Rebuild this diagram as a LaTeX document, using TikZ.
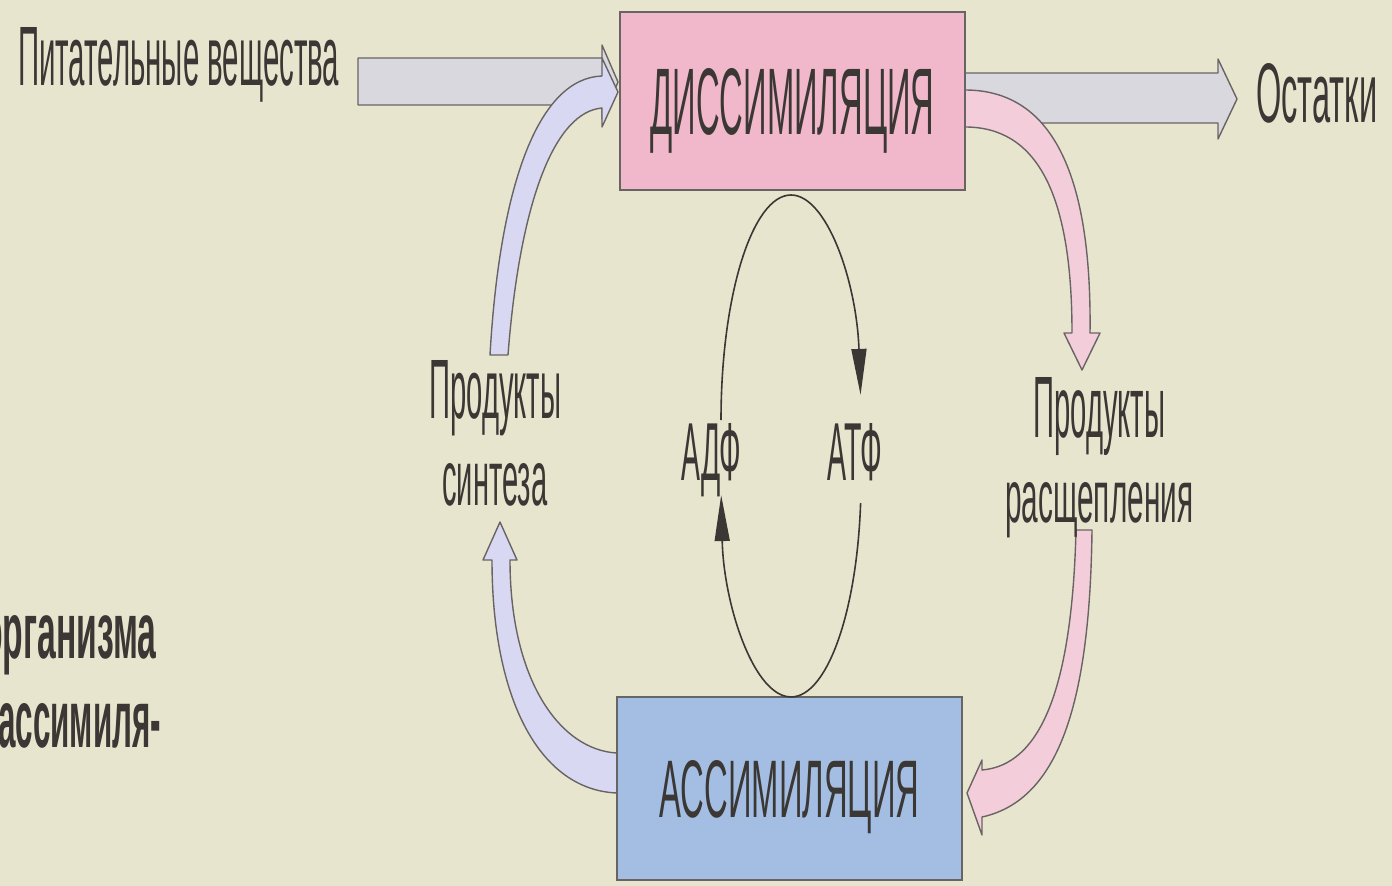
\documentclass[tikz,border=0pt]{standalone}
\usepackage{fontspec}
\setmainfont{Liberation Sans}
\usetikzlibrary{arrows.meta}

\definecolor{paper}{RGB}{232,229,207}
\definecolor{ink}{RGB}{58,55,52}
\definecolor{edge}{RGB}{105,100,100}
\definecolor{dissfill}{RGB}{240,184,202}
\definecolor{assimfill}{RGB}{163,190,226}
\definecolor{grayarr}{RGB}{216,216,222}
\definecolor{lavarr}{RGB}{216,216,242}
\definecolor{pinkarr}{RGB}{243,205,218}

% text squeezed to a given width and height (in px)
\newcommand\sqz[3]{\resizebox{#1pt}{#2pt}{#3}}

\begin{document}
\begin{tikzpicture}[x=1pt,y=-1pt,
  lbl/.style={inner sep=0pt,anchor=base west,text=ink},
  boxnode/.style={draw=edge,line width=1.6pt,inner sep=0pt,text depth=0pt,text=ink},
  fat/.style={draw=edge,line width=1.4pt,line join=round},
  cyc/.style={draw=ink,line width=1.6pt,-{Triangle[length=46pt,width=15pt]}}]

  % paper
  \fill[paper] (0,0) rectangle (1392,886);
  \clip (0,0) rectangle (1392,886);

  % straight grey arrows
  \draw[fat,fill=grayarr] (358,58) -- (602,58) -- (602,45) -- (618,82)
    -- (602,119) -- (602,105) -- (358,105) -- cycle;
  \draw[fat,fill=grayarr] (965,73) -- (1218,73) -- (1218,59) -- (1237,99)
    -- (1218,139) -- (1218,123) -- (965,123) -- cycle;

  % curved arrows
  \draw[fat,fill=lavarr] (490,355) .. controls (500,180) and (540,78) .. (602,76)
    -- (602,58) -- (618,92) -- (602,127) -- (602,108)
    .. controls (555,112) and (520,200) .. (508,355) -- cycle;
  \draw[fat,fill=pinkarr] (965,90) .. controls (1050,90) and (1092,170) .. (1090,333)
    -- (1100,333) -- (1082,370) -- (1064,333) -- (1072,333)
    .. controls (1072,190) and (1035,127) .. (965,127) -- cycle;
  \draw[fat,fill=pinkarr] (1092,530) .. controls (1090,700) and (1060,800) .. (982,817)
    -- (982,835) -- (967,793) -- (982,760) -- (982,770)
    .. controls (1040,765) and (1072,690) .. (1076,530) -- cycle;
  \draw[fat,fill=lavarr] (617,793) .. controls (540,790) and (492,700) .. (492,560)
    -- (483,560) -- (500,522) -- (517,560) -- (510,560)
    .. controls (510,680) and (560,750) .. (617,753) -- cycle;

  % boxes
  \node[boxnode,fill=dissfill,minimum width=345pt,minimum height=178pt]
    (diss) at (792.5,101) {\sqz{284}{66}{ДИССИМИЛЯЦИЯ}};
  \node[boxnode,fill=assimfill,minimum width=345pt,minimum height=183pt]
    (assim) at (789.5,788.5) {\sqz{260}{57}{АССИМИЛЯЦИЯ}};

  % labels
  \node[lbl] (nutri) at (18,85) {\sqz{321}{58}{Питательные вещества}};
  \node[lbl] (rest) at (1256,122) {\sqz{121}{59}{Остатки}};
  \node[lbl] (synthA) at (429,418) {\sqz{132}{58}{Продукты}};
  \node[lbl] (synthB) at (442,505) {\sqz{105}{42}{синтеза}};
  \node[lbl] (splitA) at (1033,437) {\sqz{132}{60}{Продукты}};
  \node[lbl] (splitB) at (1005,522) {\sqz{188}{40}{расщепления}};
  \node[lbl] (adf) at (681,480) {\sqz{60}{57}{АДФ}};
  \node[lbl] (atf) at (827,480) {\sqz{55}{57}{АТФ}};
  \node[lbl] (orgA) at (-18,658) {\sqz{174}{43}{\bfseries организма}};
  \node[lbl] (orgB) at (-2,747) {\sqz{163}{44}{\bfseries ассимиля-}};

  % ATP cycle
  \coordinate (adfTop) at (721,420);
  \coordinate (atfBot) at (860.6,503);
  \draw[cyc] (adfTop) arc[start angle=180,end angle=353.6,x radius=70,y radius=225];
  \draw[cyc] (atfBot) arc[start angle=6.1,end angle=176,x radius=70,y radius=217];
\end{tikzpicture}
\end{document}
